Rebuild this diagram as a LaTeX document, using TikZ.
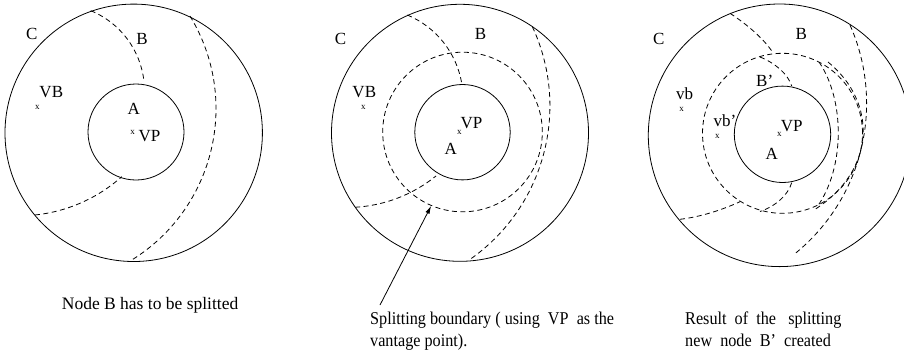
\documentclass[tikz,border=0pt]{standalone}
\usepackage{fontspec}
\setmainfont{Liberation Serif}
\newfontfamily\capfont[FakeStretch=0.9]{Liberation Serif}
\usetikzlibrary{arrows.meta,positioning}
\tikzset{ring/.style={draw,circle,line width=0.8pt,inner sep=0pt}, splitring/.style={ring,dash pattern=on 5pt off 3.5pt}, edgeline/.style={line width=0.8pt,dash pattern=on 5pt off 3.5pt}, lab/.style={font=\fontsize{17}{20}\selectfont,inner sep=0pt,anchor=base}, vmark/.style={font=\fontsize{9}{10}\selectfont,inner sep=0pt}, note/.style={font=\capfont\fontsize{18}{22.5}\selectfont,inner sep=0pt,anchor=base west,align=left}, pointer/.style={-{Latex[length=8pt,width=4.5pt]},line width=0.8pt}}

\begin{document}
\begin{tikzpicture}[x=1pt,y=-1pt]
\useasboundingbox (0,0) rectangle (904,357);
\clip (0,0) rectangle (904,357);
\node[ring,minimum size=257.4pt] (outer1) at (133.7,132.8) {};
\node[ring,minimum size=96pt] (inner1) at (136,132) {};
\draw[edgeline] (57.9,90.8) ++(-67.7:86.6) arc[start angle=-67.7,end angle=-6,radius=86.6];
\draw[edgeline] (19.1,61.5) ++(84.1:154.3) arc[start angle=84.1,end angle=48.3,radius=154.3];
\draw[edgeline] (38,108.7) ++(-31.4:178) arc[start angle=-31.4,end angle=58.2,radius=178];
\node[lab] (c1) at (31.7,39.3) {C};
\node[lab] (b1) at (142,44.3) {B};
\node[lab] (vbl1) at (51.3,97.3) {VB};
\node[vmark] (vbx1) at (37.3,107.3) {x};
\node[lab] (a1) at (133.8,114.3) {A};
\node[vmark] (vpx1) at (132.7,132) {x};
\node[lab] (vp1) at (149.5,141.7) {VP};
\node[note,font=\fontsize{17.5}{22}\selectfont] (cap1) at (61.7,309.5) {Node B has to be splitted};

\node[ring,minimum size=257pt] (outer2) at (460,132.8) {};
\node[ring,minimum size=95.4pt] (inner2) at (462.5,132.2) {};
\node[splitring,minimum size=159.6pt] (split2) at (462.5,132) {};
\draw[edgeline] (372.7,98.4) ++(-67.5:90.3) arc[start angle=-67.5,end angle=-9.6,radius=90.3];
\draw[edgeline] (346.9,65.8) ++(86.7:141.7) arc[start angle=86.7,end angle=51,radius=141.7];
\draw[edgeline] (362.5,105.9) ++(-25:187.4) arc[start angle=-25,end angle=55,radius=187.4];
\node[lab] (c2) at (340.5,44) {C};
\node[lab] (b2) at (480.5,39.3) {B};
\node[lab] (vbl2) at (364.3,97.7) {VB};
\node[vmark] (vbx2) at (363.3,107.3) {x};
\node[lab] (vp2) at (471.5,128.3) {VP};
\node[vmark] (vpx2) at (459.3,132.3) {x};
\node[lab] (a2) at (450.8,154.3) {A};
\node[note] (cap2) at (370,346.7) {Splitting boundary ( using~~VP~~as the\\vantage point).};
\coordinate (tail) at (380,305);
\draw[pointer] (tail) -- (split2.247);

\node[ring,minimum size=262.6pt] (outer3) at (779.6,135.3) {};
\node[ring,minimum size=96.4pt] (inner3) at (782.5,134.3) {};
\node[splitring,minimum size=160pt] (split3) at (782.5,133.3) {};
\draw[edgeline] (730,13.3) .. controls (748,25) and (765,40) .. (773.3,53.3);
\draw[edgeline] (760,57) .. controls (775,63) and (788,74) .. (791.7,86);
\draw[edgeline] (680,219.3) .. controls (700,217) and (722,210) .. (740,201.7);
\draw[edgeline] (791.7,182.7) .. controls (788,195) and (776,206) .. (760,211.5);
\draw[edgeline] (819,62) .. controls (845,100) and (845,168) .. (817,207);
\draw[edgeline] (828,62) .. controls (877,102) and (877,170) .. (814,210);
\draw[edgeline] (673.2,103.4) ++(-23.9:193.4) arc[start angle=-23.9,end angle=51.6,radius=193.4];
\node[lab] (c3) at (658.7,44.3) {C};
\node[lab] (b3) at (801.3,39.3) {B};
\node[lab] (bp3) at (764.7,86) {B’};
\node[lab] (vbl3) at (684.5,99) {vb};
\node[vmark] (vbx3) at (681.7,109.3) {x};
\node[lab] (vbp3) at (725,126.7) {vb’};
\node[vmark] (vbpx3) at (717.3,136) {x};
\node[lab] (vp3) at (791.7,131) {VP};
\node[vmark] (vpx3) at (779.3,134) {x};
\node[lab] (a3) at (771.7,159.3) {A};
\node[note] (cap3) at (685,346.7) {Result~~of~~the~~~splitting\\new~~node~~B’~~created};
\end{tikzpicture}
\end{document}
